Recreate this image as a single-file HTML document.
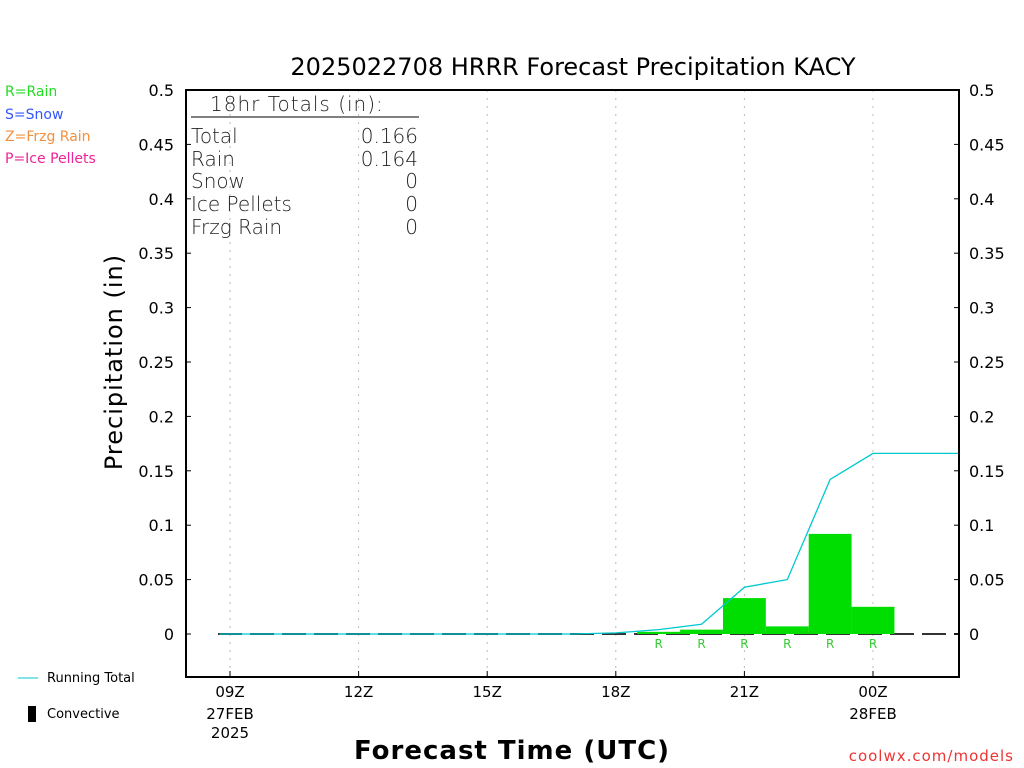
<!DOCTYPE html>
<html><head><meta charset="utf-8"><style>
body{margin:0;background:#fff;}
svg{display:block;font-family:"DejaVu Sans","Liberation Sans",sans-serif;}
</style></head><body>
<svg id="c" width="1024" height="768" viewBox="0 0 1024 768">
<text x="573" y="75" font-size="24" text-anchor="middle" fill="#000">2025022708 HRRR Forecast Precipitation KACY</text>
<g font-size="14">
<text x="5" y="96" fill="#22dd22">R=Rain</text>
<text x="5" y="119" fill="#3355ff">S=Snow</text>
<text x="5" y="141" fill="#f09040">Z=Frzg Rain</text>
<text x="5" y="163" fill="#ee2299">P=Ice Pellets</text>
</g>
<g id="grid"></g><g id="marks"></g><g id="axes"></g>
<g font-size="20" fill="#222" font-weight="300">
<text x="210" y="111" letter-spacing="1">18hr Totals (in):</text>
<line x1="191" y1="117" x2="419" y2="117" stroke="#000" stroke-width="1"/>
<text x="191" y="143">Total</text><text x="418" y="143" text-anchor="end">0.166</text>
<text x="191" y="166">Rain</text><text x="418" y="166" text-anchor="end">0.164</text>
<text x="191" y="188">Snow</text><text x="418" y="188" text-anchor="end">0</text>
<text x="191" y="211">Ice Pellets</text><text x="418" y="211" text-anchor="end">0</text>
<text x="191" y="234">Frzg Rain</text><text x="418" y="234" text-anchor="end">0</text>
</g>
<text transform="translate(122,362) rotate(-90)" font-size="24" text-anchor="middle" letter-spacing="1">Precipitation (in)</text>
<text x="512" y="759" font-size="26" font-weight="bold" text-anchor="middle" letter-spacing="1">Forecast Time (UTC)</text>
<g font-size="13">
<line x1="18" y1="678" x2="38" y2="678" stroke="#00c8d0" stroke-width="1"/>
<text x="47" y="682">Running Total</text>
<rect x="28" y="706" width="8" height="16" fill="#000"/>
<text x="47" y="718">Convective</text>
</g>
<text x="1014" y="761" font-size="15" fill="#ee3333" text-anchor="end" letter-spacing="1">coolwx.com/models</text>
</svg>
<script>
const hours=[19,20,21,22,23,24];
const hourlyPrecip=[0.002,0.004,0.033,0.007,0.092,0.025];
const totalHours=[9,10,11,12,13,14,15,16,17,18,19,20,21,22,23,24,25,26];
const runningTotal=[0,0,0,0,0,0,0,0,0,0.001,0.004,0.009,0.043,0.050,0.142,0.166,0.166,0.166];
const yTicks=[0,0.05,0.1,0.15,0.2,0.25,0.3,0.35,0.4,0.45,0.5];
const xTickHours=[9,12,15,18,21,24];
const xTickLabels=["09Z","12Z","15Z","18Z","21Z","00Z"];
const xSubLabels={9:["27FEB","2025"],24:["28FEB"]};
const NS="http://www.w3.org/2000/svg";
const L=186,R=959,T=90,B=677;
const X=h=>230+(h-9)*(873-230)/15;
const Y=v=>634-v*(634-90)/0.5;
function mk(tag,attrs,parent,txt){const e=document.createElementNS(NS,tag);for(const k in attrs)e.setAttribute(k,attrs[k]);if(txt!==undefined)e.textContent=txt;document.getElementById(parent).appendChild(e);return e;}
xTickHours.forEach((h,i)=>{
 const g=mk('line',{x1:X(h),x2:X(h),y1:T,y2:B,stroke:'#bbb','stroke-dasharray':'2,6'},'grid');
 
 
 const t=mk('text',{x:X(h),y:697,'font-size':15,'text-anchor':'middle'},'axes',xTickLabels[i]);
 
 
 mk('line',{x1:X(h),x2:X(h),y1:B,y2:B-6,stroke:'#000'},'axes');
 (xSubLabels[h]||[]).forEach((s,j)=>{const u=mk('text',{x:X(h),y:719+j*19,'font-size':15,'text-anchor':'middle'},'axes',s);
 
 });
});
mk('line',{x1:218,x2:R,y1:Y(0),y2:Y(0),stroke:'#333','stroke-width':2,'stroke-dasharray':'24,8'},'marks');
hours.forEach((h,i)=>{
 const w=X(h+0.5)-X(h-0.5);
 const b=mk('rect',{x:X(h-0.5),y:Y(hourlyPrecip[i]),width:w,height:Y(0)-Y(hourlyPrecip[i]),fill:'#00dd00'},'marks');
 
 
 const r=mk('text',{x:X(h),y:Y(0)+14,'font-size':12,fill:'#33cc33','text-anchor':'middle'},'marks','R');
 
 
});
const pts=totalHours.map((h,i)=>X(h)+','+Y(runningTotal[i])).join(' ');
const pl=mk('polyline',{points:X(8.75)+','+Y(0)+' '+pts,fill:'none',stroke:'#00c8d0','stroke-width':1.3},'marks');


yTicks.forEach(v=>{
 mk('line',{x1:L,x2:L+5,y1:Y(v),y2:Y(v),stroke:'#000'},'axes');
 mk('line',{x1:R-5,x2:R,y1:Y(v),y2:Y(v),stroke:'#000'},'axes');
 const a=mk('text',{x:174,y:Y(v)+6,'font-size':16,'text-anchor':'end'},'axes',String(v));
 
 
 const b=mk('text',{x:969,y:Y(v)+6,'font-size':16},'axes',String(v));
 
 
});
const f=mk('rect',{x:L,y:T,width:R-L,height:B-T,fill:'none',stroke:'#000','stroke-width':2},'axes');


</script>
</body></html>
